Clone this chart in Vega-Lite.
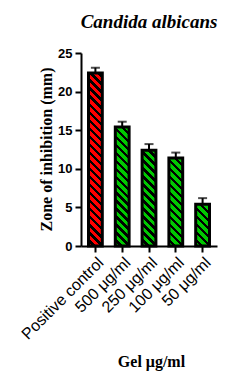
{
  "$schema": "https://vega.github.io/schema/vega-lite/v6.json",
  "autosize": {"type": "none"},
  "padding": {"left": 81, "top": 53, "right": 25, "bottom": 138},
  "width": 136,
  "height": 193,
  "background": "white",
  "title": {"text": "Candida albicans", "font": "Liberation Serif", "fontSize": 19, "fontStyle": "italic", "fontWeight": "bold", "color": "black", "anchor": "middle", "offset": 15},
  "data": {"values": [
    {"group": "Positive control", "value": 22.4, "upper": 23.1},
    {"group": "500 μg/ml", "value": 15.4, "upper": 16.1},
    {"group": "250 μg/ml", "value": 12.4, "upper": 13.2},
    {"group": "100 μg/ml", "value": 11.4, "upper": 12.1},
    {"group": "50 μg/ml", "value": 5.4, "upper": 6.2}
  ]},
  "encoding": {
    "x": {"field": "group", "type": "nominal", "sort": null,
      "scale": {"paddingInner": 0.485, "paddingOuter": 0.28},
      "axis": {"title": "Gel  μg/ml", "titleFont": "Liberation Serif", "titleFontSize": 16, "titleFontWeight": "bold", "titleColor": "black",
        "titleX": 70, "titleY": 120, "titleAlign": "center", "titleBaseline": "alphabetic",
        "labelAngle": -45, "labelFont": "Liberation Sans", "labelFontSize": 16, "labelColor": "black", "labelPadding": 2,
        "tickSize": 6, "tickWidth": 2, "tickColor": "black", "domainWidth": 2, "domainColor": "black", "grid": false}}
  },
  "layer": [
    {
      "mark": {"type": "bar", "stroke": "black", "strokeWidth": 3},
      "encoding": {
        "y": {"field": "value", "type": "quantitative",
          "scale": {"domain": [0, 25], "nice": false},
          "axis": {"title": "Zone of inhibition (mm)", "values": [0, 5, 10, 15, 20, 25], "labelOverlap": false}},
        "fill": {
          "condition": [
            {"test": "datum.group === 'Positive control'", "value": {"gradient": "linear", "x1": 0, "y1": 1, "x2": 0.0856, "y2": -0.0727, "stops": [
              {"offset": 0, "color": "#ff0000"},{"offset": 0.0237, "color": "#ff0000"},{"offset": 0.0237, "color": "black"},{"offset": 0.043, "color": "black"},
              {"offset": 0.043, "color": "#ff0000"},{"offset": 0.0667, "color": "#ff0000"},{"offset": 0.0667, "color": "black"},{"offset": 0.086, "color": "black"},
              {"offset": 0.086, "color": "#ff0000"},{"offset": 0.1097, "color": "#ff0000"},{"offset": 0.1097, "color": "black"},{"offset": 0.129, "color": "black"},
              {"offset": 0.129, "color": "#ff0000"},{"offset": 0.1527, "color": "#ff0000"},{"offset": 0.1527, "color": "black"},{"offset": 0.172, "color": "black"},
              {"offset": 0.172, "color": "#ff0000"},{"offset": 0.1957, "color": "#ff0000"},{"offset": 0.1957, "color": "black"},{"offset": 0.215, "color": "black"},
              {"offset": 0.215, "color": "#ff0000"},{"offset": 0.2387, "color": "#ff0000"},{"offset": 0.2387, "color": "black"},{"offset": 0.258, "color": "black"},
              {"offset": 0.258, "color": "#ff0000"},{"offset": 0.2817, "color": "#ff0000"},{"offset": 0.2817, "color": "black"},{"offset": 0.301, "color": "black"},
              {"offset": 0.301, "color": "#ff0000"},{"offset": 0.3247, "color": "#ff0000"},{"offset": 0.3247, "color": "black"},{"offset": 0.344, "color": "black"},
              {"offset": 0.344, "color": "#ff0000"},{"offset": 0.3677, "color": "#ff0000"},{"offset": 0.3677, "color": "black"},{"offset": 0.387, "color": "black"},
              {"offset": 0.387, "color": "#ff0000"},{"offset": 0.4107, "color": "#ff0000"},{"offset": 0.4107, "color": "black"},{"offset": 0.43, "color": "black"},
              {"offset": 0.43, "color": "#ff0000"},{"offset": 0.4537, "color": "#ff0000"},{"offset": 0.4537, "color": "black"},{"offset": 0.473, "color": "black"},
              {"offset": 0.473, "color": "#ff0000"},{"offset": 0.4967, "color": "#ff0000"},{"offset": 0.4967, "color": "black"},{"offset": 0.516, "color": "black"},
              {"offset": 0.516, "color": "#ff0000"},{"offset": 0.5397, "color": "#ff0000"},{"offset": 0.5397, "color": "black"},{"offset": 0.559, "color": "black"},
              {"offset": 0.559, "color": "#ff0000"},{"offset": 0.5827, "color": "#ff0000"},{"offset": 0.5827, "color": "black"},{"offset": 0.602, "color": "black"},
              {"offset": 0.602, "color": "#ff0000"},{"offset": 0.6257, "color": "#ff0000"},{"offset": 0.6257, "color": "black"},{"offset": 0.645, "color": "black"},
              {"offset": 0.645, "color": "#ff0000"},{"offset": 0.6687, "color": "#ff0000"},{"offset": 0.6687, "color": "black"},{"offset": 0.688, "color": "black"},
              {"offset": 0.688, "color": "#ff0000"},{"offset": 0.7117, "color": "#ff0000"},{"offset": 0.7117, "color": "black"},{"offset": 0.731, "color": "black"},
              {"offset": 0.731, "color": "#ff0000"},{"offset": 0.7547, "color": "#ff0000"},{"offset": 0.7547, "color": "black"},{"offset": 0.774, "color": "black"},
              {"offset": 0.774, "color": "#ff0000"},{"offset": 0.7977, "color": "#ff0000"},{"offset": 0.7977, "color": "black"},{"offset": 0.817, "color": "black"},
              {"offset": 0.817, "color": "#ff0000"},{"offset": 0.8407, "color": "#ff0000"},{"offset": 0.8407, "color": "black"},{"offset": 0.86, "color": "black"},
              {"offset": 0.86, "color": "#ff0000"},{"offset": 0.8837, "color": "#ff0000"},{"offset": 0.8837, "color": "black"},{"offset": 0.903, "color": "black"},
              {"offset": 0.903, "color": "#ff0000"},{"offset": 0.9267, "color": "#ff0000"},{"offset": 0.9267, "color": "black"},{"offset": 0.946, "color": "black"},
              {"offset": 0.946, "color": "#ff0000"},{"offset": 0.9697, "color": "#ff0000"},{"offset": 0.9697, "color": "black"},{"offset": 0.989, "color": "black"},
              {"offset": 0.989, "color": "#ff0000"},{"offset": 1, "color": "#ff0000"}]}},
            {"test": "datum.group === '500 μg/ml'", "value": {"gradient": "linear", "x1": 0, "y1": 1, "x2": 0.1278, "y2": -0.1012, "stops": [
              {"offset": 0, "color": "#00c800"},{"offset": 0.033, "color": "#00c800"},{"offset": 0.033, "color": "black"},{"offset": 0.06, "color": "black"},
              {"offset": 0.06, "color": "#00c800"},{"offset": 0.093, "color": "#00c800"},{"offset": 0.093, "color": "black"},{"offset": 0.12, "color": "black"},
              {"offset": 0.12, "color": "#00c800"},{"offset": 0.153, "color": "#00c800"},{"offset": 0.153, "color": "black"},{"offset": 0.18, "color": "black"},
              {"offset": 0.18, "color": "#00c800"},{"offset": 0.213, "color": "#00c800"},{"offset": 0.213, "color": "black"},{"offset": 0.24, "color": "black"},
              {"offset": 0.24, "color": "#00c800"},{"offset": 0.273, "color": "#00c800"},{"offset": 0.273, "color": "black"},{"offset": 0.3, "color": "black"},
              {"offset": 0.3, "color": "#00c800"},{"offset": 0.333, "color": "#00c800"},{"offset": 0.333, "color": "black"},{"offset": 0.36, "color": "black"},
              {"offset": 0.36, "color": "#00c800"},{"offset": 0.393, "color": "#00c800"},{"offset": 0.393, "color": "black"},{"offset": 0.42, "color": "black"},
              {"offset": 0.42, "color": "#00c800"},{"offset": 0.453, "color": "#00c800"},{"offset": 0.453, "color": "black"},{"offset": 0.48, "color": "black"},
              {"offset": 0.48, "color": "#00c800"},{"offset": 0.513, "color": "#00c800"},{"offset": 0.513, "color": "black"},{"offset": 0.54, "color": "black"},
              {"offset": 0.54, "color": "#00c800"},{"offset": 0.573, "color": "#00c800"},{"offset": 0.573, "color": "black"},{"offset": 0.6, "color": "black"},
              {"offset": 0.6, "color": "#00c800"},{"offset": 0.633, "color": "#00c800"},{"offset": 0.633, "color": "black"},{"offset": 0.66, "color": "black"},
              {"offset": 0.66, "color": "#00c800"},{"offset": 0.693, "color": "#00c800"},{"offset": 0.693, "color": "black"},{"offset": 0.72, "color": "black"},
              {"offset": 0.72, "color": "#00c800"},{"offset": 0.753, "color": "#00c800"},{"offset": 0.753, "color": "black"},{"offset": 0.78, "color": "black"},
              {"offset": 0.78, "color": "#00c800"},{"offset": 0.813, "color": "#00c800"},{"offset": 0.813, "color": "black"},{"offset": 0.84, "color": "black"},
              {"offset": 0.84, "color": "#00c800"},{"offset": 0.873, "color": "#00c800"},{"offset": 0.873, "color": "black"},{"offset": 0.9, "color": "black"},
              {"offset": 0.9, "color": "#00c800"},{"offset": 0.933, "color": "#00c800"},{"offset": 0.933, "color": "black"},{"offset": 0.96, "color": "black"},
              {"offset": 0.96, "color": "#00c800"},{"offset": 0.993, "color": "#00c800"},{"offset": 0.993, "color": "black"},{"offset": 1, "color": "black"}]}},
            {"test": "datum.group === '250 μg/ml'", "value": {"gradient": "linear", "x1": 0, "y1": 1, "x2": 0.1616, "y2": -0.1209, "stops": [
              {"offset": 0, "color": "#00c800"},{"offset": 0.0402, "color": "#00c800"},{"offset": 0.0402, "color": "black"},{"offset": 0.073, "color": "black"},
              {"offset": 0.073, "color": "#00c800"},{"offset": 0.1132, "color": "#00c800"},{"offset": 0.1132, "color": "black"},{"offset": 0.146, "color": "black"},
              {"offset": 0.146, "color": "#00c800"},{"offset": 0.1862, "color": "#00c800"},{"offset": 0.1862, "color": "black"},{"offset": 0.219, "color": "black"},
              {"offset": 0.219, "color": "#00c800"},{"offset": 0.2592, "color": "#00c800"},{"offset": 0.2592, "color": "black"},{"offset": 0.292, "color": "black"},
              {"offset": 0.292, "color": "#00c800"},{"offset": 0.3322, "color": "#00c800"},{"offset": 0.3322, "color": "black"},{"offset": 0.365, "color": "black"},
              {"offset": 0.365, "color": "#00c800"},{"offset": 0.4052, "color": "#00c800"},{"offset": 0.4052, "color": "black"},{"offset": 0.438, "color": "black"},
              {"offset": 0.438, "color": "#00c800"},{"offset": 0.4782, "color": "#00c800"},{"offset": 0.4782, "color": "black"},{"offset": 0.511, "color": "black"},
              {"offset": 0.511, "color": "#00c800"},{"offset": 0.5512, "color": "#00c800"},{"offset": 0.5512, "color": "black"},{"offset": 0.584, "color": "black"},
              {"offset": 0.584, "color": "#00c800"},{"offset": 0.6242, "color": "#00c800"},{"offset": 0.6242, "color": "black"},{"offset": 0.657, "color": "black"},
              {"offset": 0.657, "color": "#00c800"},{"offset": 0.6972, "color": "#00c800"},{"offset": 0.6972, "color": "black"},{"offset": 0.73, "color": "black"},
              {"offset": 0.73, "color": "#00c800"},{"offset": 0.7702, "color": "#00c800"},{"offset": 0.7702, "color": "black"},{"offset": 0.803, "color": "black"},
              {"offset": 0.803, "color": "#00c800"},{"offset": 0.8432, "color": "#00c800"},{"offset": 0.8432, "color": "black"},{"offset": 0.876, "color": "black"},
              {"offset": 0.876, "color": "#00c800"},{"offset": 0.9162, "color": "#00c800"},{"offset": 0.9162, "color": "black"},{"offset": 0.949, "color": "black"},
              {"offset": 0.949, "color": "#00c800"},{"offset": 0.9892, "color": "#00c800"},{"offset": 0.9892, "color": "black"},{"offset": 1, "color": "black"}]}},
            {"test": "datum.group === '100 μg/ml'", "value": {"gradient": "linear", "x1": 0, "y1": 1, "x2": 0.1771, "y2": -0.1292, "stops": [
              {"offset": 0, "color": "#00c800"},{"offset": 0.0432, "color": "#00c800"},{"offset": 0.0432, "color": "black"},{"offset": 0.0786, "color": "black"},
              {"offset": 0.0786, "color": "#00c800"},{"offset": 0.1218, "color": "#00c800"},{"offset": 0.1218, "color": "black"},{"offset": 0.1572, "color": "black"},
              {"offset": 0.1572, "color": "#00c800"},{"offset": 0.2004, "color": "#00c800"},{"offset": 0.2004, "color": "black"},{"offset": 0.2358, "color": "black"},
              {"offset": 0.2358, "color": "#00c800"},{"offset": 0.279, "color": "#00c800"},{"offset": 0.279, "color": "black"},{"offset": 0.3144, "color": "black"},
              {"offset": 0.3144, "color": "#00c800"},{"offset": 0.3576, "color": "#00c800"},{"offset": 0.3576, "color": "black"},{"offset": 0.393, "color": "black"},
              {"offset": 0.393, "color": "#00c800"},{"offset": 0.4362, "color": "#00c800"},{"offset": 0.4362, "color": "black"},{"offset": 0.4716, "color": "black"},
              {"offset": 0.4716, "color": "#00c800"},{"offset": 0.5148, "color": "#00c800"},{"offset": 0.5148, "color": "black"},{"offset": 0.5502, "color": "black"},
              {"offset": 0.5502, "color": "#00c800"},{"offset": 0.5934, "color": "#00c800"},{"offset": 0.5934, "color": "black"},{"offset": 0.6288, "color": "black"},
              {"offset": 0.6288, "color": "#00c800"},{"offset": 0.672, "color": "#00c800"},{"offset": 0.672, "color": "black"},{"offset": 0.7074, "color": "black"},
              {"offset": 0.7074, "color": "#00c800"},{"offset": 0.7506, "color": "#00c800"},{"offset": 0.7506, "color": "black"},{"offset": 0.786, "color": "black"},
              {"offset": 0.786, "color": "#00c800"},{"offset": 0.8292, "color": "#00c800"},{"offset": 0.8292, "color": "black"},{"offset": 0.8646, "color": "black"},
              {"offset": 0.8646, "color": "#00c800"},{"offset": 0.9078, "color": "#00c800"},{"offset": 0.9078, "color": "black"},{"offset": 0.9432, "color": "black"},
              {"offset": 0.9432, "color": "#00c800"},{"offset": 0.9864, "color": "#00c800"},{"offset": 0.9864, "color": "black"},{"offset": 1, "color": "black"}]}},
            {"test": "datum.group === '50 μg/ml'", "value": {"gradient": "linear", "x1": 0, "y1": 1, "x2": 0.397, "y2": -0.1998, "stops": [
              {"offset": 0, "color": "#00c800"},{"offset": 0.0792, "color": "#00c800"},{"offset": 0.0792, "color": "black"},{"offset": 0.144, "color": "black"},
              {"offset": 0.144, "color": "#00c800"},{"offset": 0.2232, "color": "#00c800"},{"offset": 0.2232, "color": "black"},{"offset": 0.288, "color": "black"},
              {"offset": 0.288, "color": "#00c800"},{"offset": 0.3672, "color": "#00c800"},{"offset": 0.3672, "color": "black"},{"offset": 0.432, "color": "black"},
              {"offset": 0.432, "color": "#00c800"},{"offset": 0.5112, "color": "#00c800"},{"offset": 0.5112, "color": "black"},{"offset": 0.576, "color": "black"},
              {"offset": 0.576, "color": "#00c800"},{"offset": 0.6552, "color": "#00c800"},{"offset": 0.6552, "color": "black"},{"offset": 0.72, "color": "black"},
              {"offset": 0.72, "color": "#00c800"},{"offset": 0.7992, "color": "#00c800"},{"offset": 0.7992, "color": "black"},{"offset": 0.864, "color": "black"},
              {"offset": 0.864, "color": "#00c800"},{"offset": 0.9432, "color": "#00c800"},{"offset": 0.9432, "color": "black"},{"offset": 1, "color": "black"}]}}
          ],
          "value": "#00c800"
        }
      }
    },
    {
      "mark": {"type": "rule", "color": "black", "strokeWidth": 2},
      "encoding": {"y": {"field": "value", "type": "quantitative", "axis": {"title": "Zone of inhibition (mm)", "values": [0, 5, 10, 15, 20, 25], "labelOverlap": false}}, "y2": {"field": "upper"}}
    },
    {
      "mark": {"type": "tick", "color": "black", "size": 9, "thickness": 2},
      "encoding": {"y": {"field": "upper", "type": "quantitative", "axis": {"title": "Zone of inhibition (mm)", "values": [0, 5, 10, 15, 20, 25], "labelOverlap": false}}}
    }
  ],
  "config": {
    "view": {"stroke": null},
    "tick": {"bandSize": 9},
    "axisY": {"titleFont": "Liberation Serif", "titleFontSize": 16, "titleFontWeight": "bold", "titleColor": "black",
      "titleX": -30, "titleY": 96, "titleAngle": -90, "titleAlign": "center", "titleBaseline": "alphabetic",
      "labelFont": "Liberation Sans", "labelFontSize": 13, "labelFontWeight": "bold", "labelColor": "black", "labelPadding": 3,
      "tickSize": 6, "tickWidth": 2, "tickColor": "black", "domainWidth": 2, "domainColor": "black", "grid": false}
  }
}
